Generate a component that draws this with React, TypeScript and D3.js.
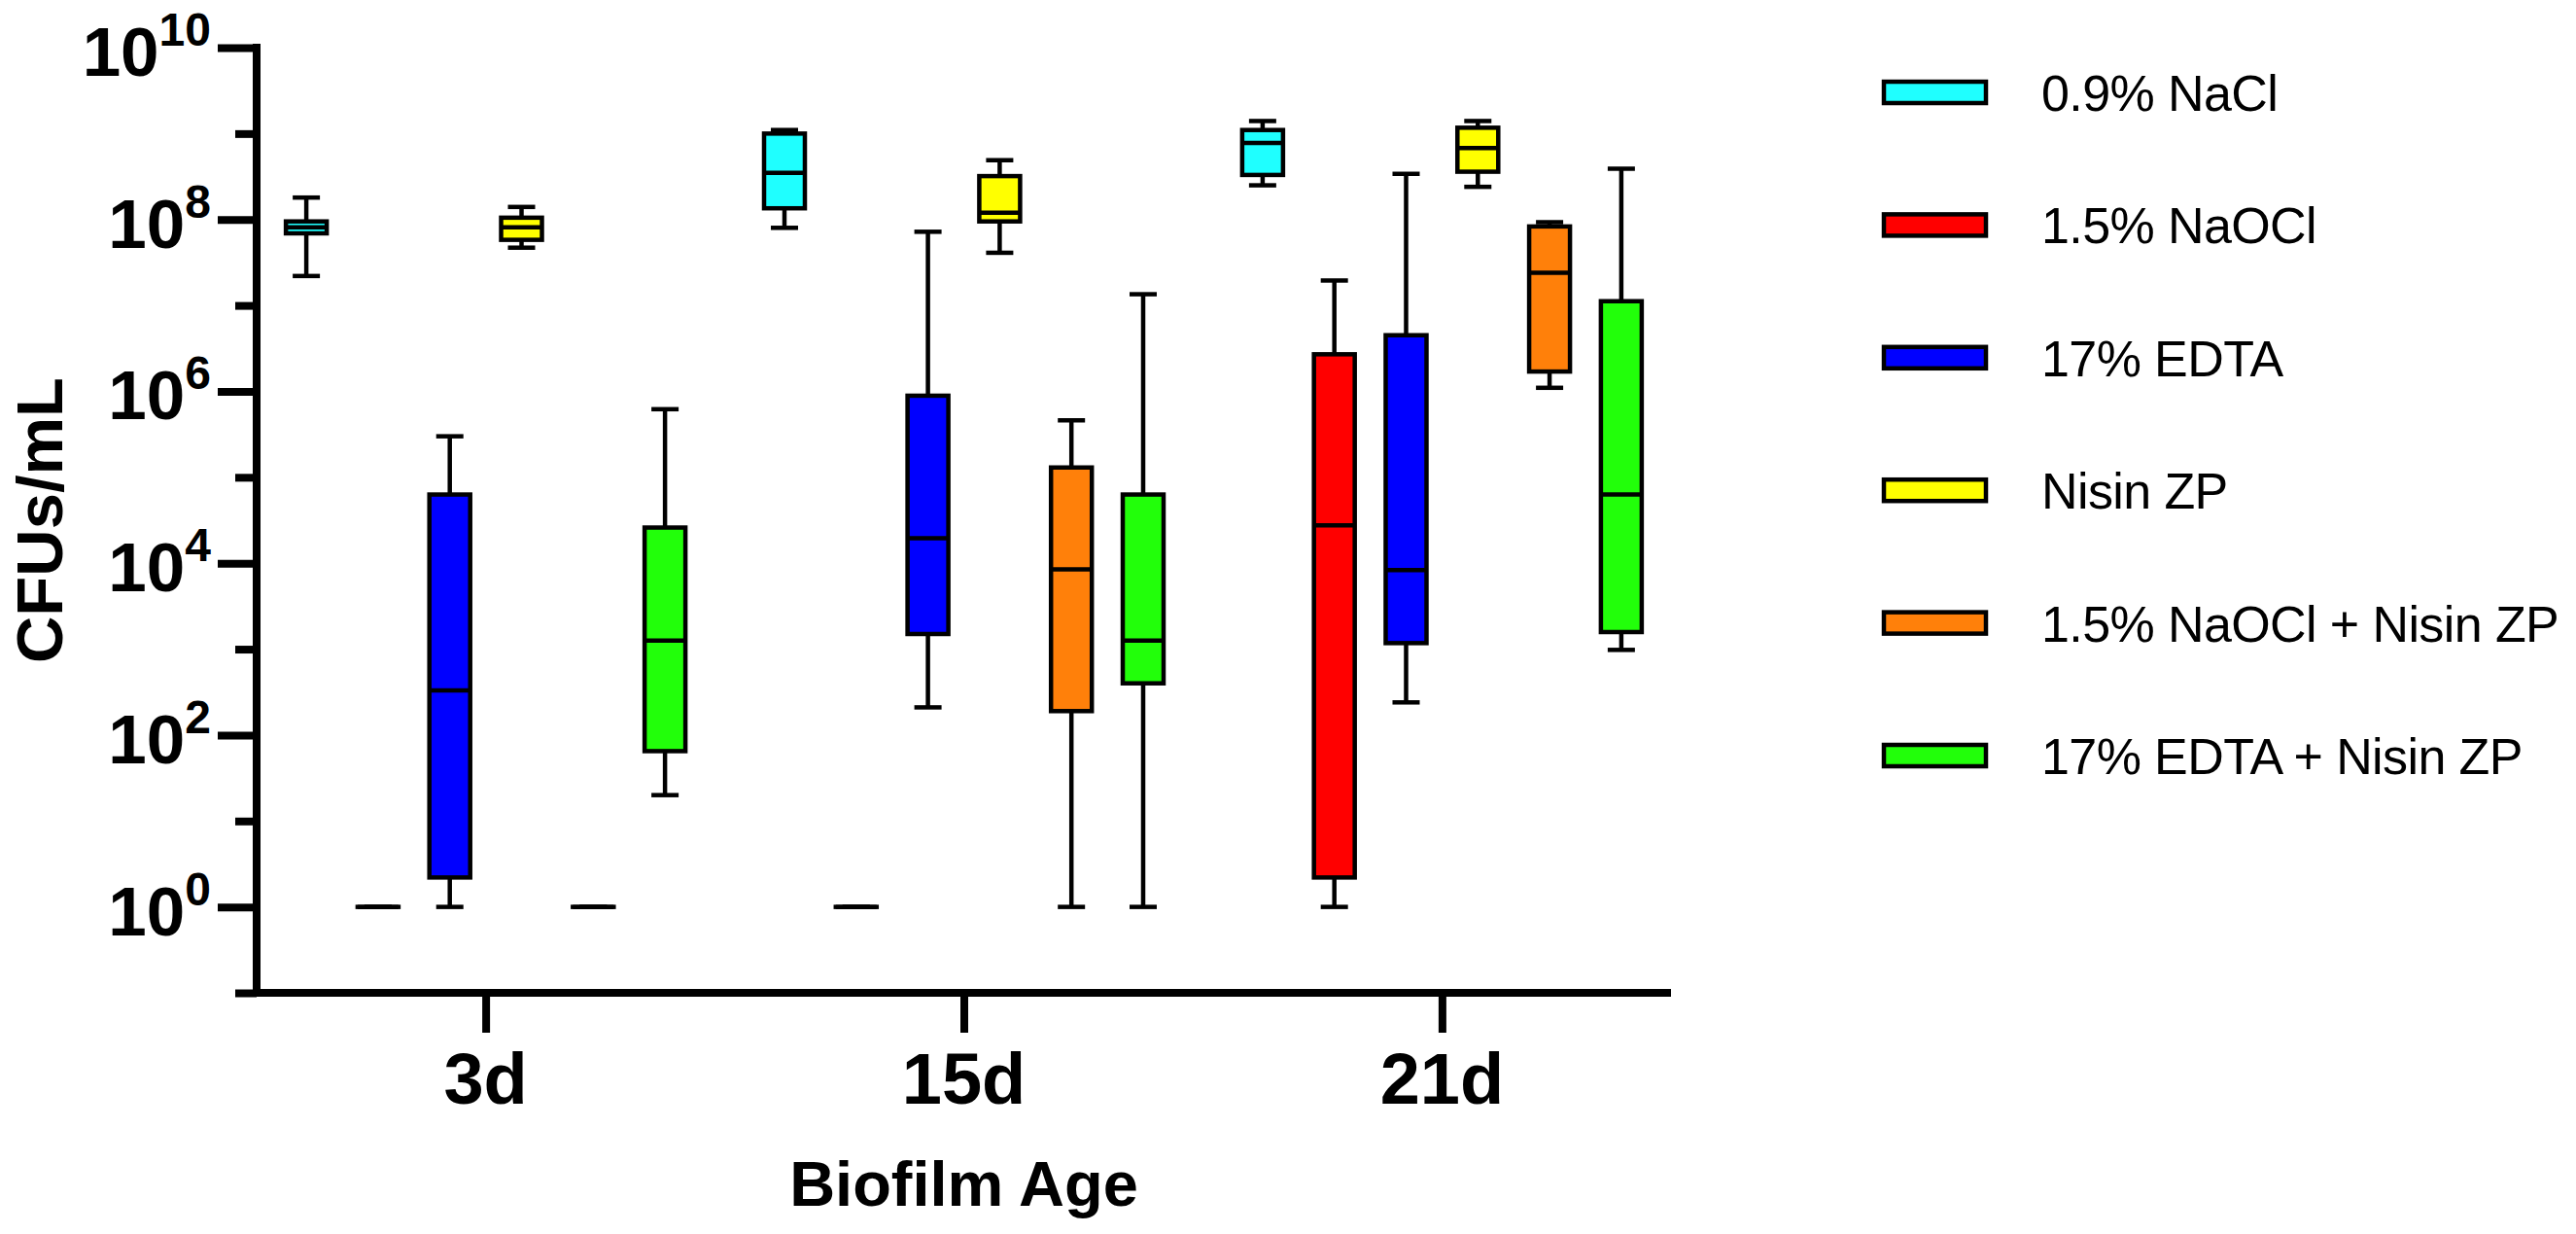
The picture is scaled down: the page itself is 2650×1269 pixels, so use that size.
import React, { useEffect, useRef } from 'react';
import * as d3 from 'd3';

// Biofilm ages on the x axis
const ages = ['3d', '15d', '21d'];

// Treatments (legend order, also the left-to-right order inside each age group)
const treatments = [
  '0.9% NaCl',
  '1.5% NaOCl',
  '17% EDTA',
  'Nisin ZP',
  '1.5% NaOCl + Nisin ZP',
  '17% EDTA + Nisin ZP'
];

const treatmentColors = ['#1FFFFF', '#FF0000', '#0000FF', '#FFFF00', '#FF800A', '#22FF0A'];

// Box stats per age: [min, q1, median, q3, max] in CFUs/mL
const naclStats = [
  [2.2e7, 6.9e7, 8.1e7, 9.5e7, 1.8e8],
  [8.0e7, 1.35e8, 3.5e8, 1.0e9, 1.1e9],
  [2.5e8, 3.3e8, 7.8e8, 1.1e9, 1.4e9]
];
const naoclStats = [
  [1, 1, 1, 1, 1],
  [1, 1, 1, 1, 1],
  [1, 2.2, 2.75e4, 2.7e6, 1.95e7]
];
const edtaStats = [
  [1, 2.2, 330, 6.3e4, 3.0e5],
  [210, 1500, 1.95e4, 8.9e5, 7.2e7],
  [240, 1175, 8300, 4.5e6, 3.4e8]
];
const nisinStats = [
  [4.7e7, 5.8e7, 8.1e7, 1.05e8, 1.4e8],
  [4.1e7, 9.5e7, 1.2e8, 3.2e8, 4.9e8],
  [2.4e8, 3.6e8, 6.8e8, 1.17e9, 1.4e9]
];
const naoclNisinStats = [
  [1, 1, 1, 1, 1],
  [1, 190, 8500, 1.3e5, 4.6e5],
  [1.1e6, 1.7e6, 2.4e7, 8.3e7, 9.3e7]
];
const edtaNisinStats = [
  [20, 65, 1260, 2.6e4, 6.2e5],
  [1, 400, 1260, 6.3e4, 1.35e7],
  [980, 1580, 6.3e4, 1.12e7, 3.9e8]
];

const allStats = [naclStats, naoclStats, edtaStats, nisinStats, naoclNisinStats, edtaNisinStats];

// Axis ticks
const majorExponents = [0, 2, 4, 6, 8, 10];
const minorTicks = [0.1, 10, 1e3, 1e5, 1e7, 1e9];

const FONT = '"Liberation Sans", Arial, Helvetica, sans-serif';

const BoxPlotChart: React.FC = () => {
  const svgRef = useRef<SVGSVGElement | null>(null);

  useEffect(() => {
    if (!svgRef.current) return;
    const svg = d3.select(svgRef.current);
    svg.selectAll('*').remove();

    const y = d3.scaleLog().domain([0.1, 1e10]).range([1021, 49]);
    const x = d3.scalePoint<string>().domain(ages).range([264, 1719]).padding(0.479);
    const xInner = d3.scalePoint<string>().domain(treatments).range([-184.5, 184.5]);

    const [xLeft, xRight] = x.range();
    const [yBottom, yTop] = y.range();

    const boxW = 42;
    const capW = 28;
    const lineW = 4.5;

    // Boxes
    const plot = svg.append('g');
    treatments.forEach((t, j) => {
      ages.forEach((age, i) => {
        const [mn, q1, med, q3, mx] = allStats[j][i];
        const cx = (x(age) ?? 0) + (xInner(t) ?? 0);
        const g = plot.append('g');

        // whiskers
        g.append('line')
          .attr('x1', cx).attr('x2', cx)
          .attr('y1', y(mx)).attr('y2', y(q3))
          .attr('stroke', '#000').attr('stroke-width', lineW);
        g.append('line')
          .attr('x1', cx).attr('x2', cx)
          .attr('y1', y(q1)).attr('y2', y(mn))
          .attr('stroke', '#000').attr('stroke-width', lineW);

        // box
        g.append('rect')
          .attr('x', cx - boxW / 2)
          .attr('y', y(q3))
          .attr('width', boxW)
          .attr('height', Math.max(y(q1) - y(q3), 0.01))
          .attr('fill', treatmentColors[j])
          .attr('stroke', '#000')
          .attr('stroke-width', lineW);

        // median
        g.append('line')
          .attr('x1', cx - boxW / 2).attr('x2', cx + boxW / 2)
          .attr('y1', y(med)).attr('y2', y(med))
          .attr('stroke', '#000').attr('stroke-width', lineW);

        // caps
        [mn, mx].forEach(v => {
          g.append('line')
            .attr('x1', cx - capW / 2).attr('x2', cx + capW / 2)
            .attr('y1', y(v)).attr('y2', y(v))
            .attr('stroke', '#000').attr('stroke-width', lineW);
        });
      });
    });

    // Y axis ticks (major and minor)
    const majorAxis = svg.append('g')
      .attr('transform', `translate(${xLeft},0)`)
      .call(d3.axisLeft(y)
        .tickValues(majorExponents.map(e => Math.pow(10, e)))
        .tickSize(40)
        .tickSizeOuter(0)
        .tickFormat(() => ''));
    majorAxis.select('.domain').remove();
    majorAxis.selectAll('line').attr('stroke', '#000').attr('stroke-width', 8);

    const minorAxis = svg.append('g')
      .attr('transform', `translate(${xLeft},0)`)
      .call(d3.axisLeft(y)
        .tickValues(minorTicks)
        .tickSize(22)
        .tickSizeOuter(0)
        .tickFormat(() => ''));
    minorAxis.select('.domain').remove();
    minorAxis.selectAll('line').attr('stroke', '#000').attr('stroke-width', 8);

    // Y tick labels: 10 with superscript exponent
    majorExponents.forEach(e => {
      const ty = y(Math.pow(10, e));
      const label = svg.append('text')
        .attr('x', xLeft - 47)
        .attr('y', ty + 29)
        .attr('text-anchor', 'end')
        .style('font-family', FONT)
        .style('font-weight', 'bold')
        .style('fill', '#000');
      label.append('tspan').style('font-size', '71px').text('10');
      label.append('tspan').attr('dy', -31).style('font-size', '48px').text(String(e));
    });

    // X axis ticks
    const xAxis = svg.append('g')
      .attr('transform', `translate(0,${yBottom})`)
      .call(d3.axisBottom(x).tickSize(41).tickSizeOuter(0).tickFormat(() => ''));
    xAxis.select('.domain').remove();
    xAxis.selectAll('line').attr('stroke', '#000').attr('stroke-width', 8);

    ages.forEach(age => {
      svg.append('text')
        .attr('x', x(age) ?? 0)
        .attr('y', 1135)
        .attr('text-anchor', 'middle')
        .style('font-family', FONT)
        .style('font-weight', 'bold')
        .style('font-size', '74px')
        .style('fill', '#000')
        .text(age);
    });

    // Axis lines
    svg.append('path')
      .attr('d', `M${xLeft},${yTop - 4}V${yBottom}H${xRight}`)
      .attr('fill', 'none')
      .attr('stroke', '#000')
      .attr('stroke-width', 8)
      .attr('stroke-linejoin', 'miter');

    // Axis titles
    svg.append('text')
      .attr('transform', `translate(64,${(yTop + yBottom) / 2}) rotate(-90)`)
      .attr('text-anchor', 'middle')
      .style('font-family', FONT)
      .style('font-weight', 'bold')
      .style('font-size', '67px')
      .style('fill', '#000')
      .text('CFUs/mL');

    svg.append('text')
      .attr('x', (xLeft + xRight) / 2)
      .attr('y', 1240)
      .attr('text-anchor', 'middle')
      .style('font-family', FONT)
      .style('font-weight', 'bold')
      .style('font-size', '65px')
      .style('fill', '#000')
      .text('Biofilm Age');

    // Legend
    const legendY = d3.scalePoint<string>().domain(treatments).range([95, 777]);
    const legend = svg.append('g');
    treatments.forEach((t, j) => {
      const cy = legendY(t) ?? 0;
      legend.append('rect')
        .attr('x', 1938)
        .attr('y', cy - 11)
        .attr('width', 105)
        .attr('height', 22)
        .attr('fill', treatmentColors[j])
        .attr('stroke', '#000')
        .attr('stroke-width', 4.5);
      legend.append('text')
        .attr('x', 2100)
        .attr('y', cy + 19)
        .style('font-family', FONT)
        .style('font-size', '52px')
        .style('letter-spacing', '-0.6px')
        .style('fill', '#000')
        .text(t);
    });
  }, []);

  return (
    <svg
      ref={svgRef}
      width={2650}
      height={1269}
      style={{ position: 'absolute', left: 0, top: 0, background: '#fff' }}
    />
  );
};

export default function App() {
  return <BoxPlotChart />;
}
